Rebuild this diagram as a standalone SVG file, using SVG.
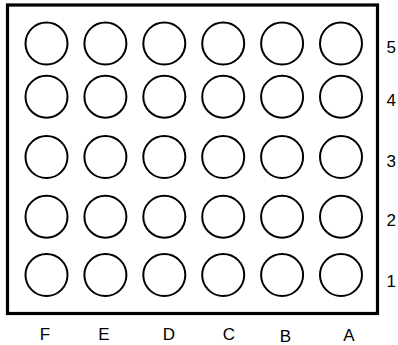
<svg xmlns="http://www.w3.org/2000/svg" width="398" height="345" viewBox="0 0 398 345">
<style>
.ball{fill:#fff;stroke:#000;stroke-width:2}
.lbl{font-family:"Liberation Sans",Arial,sans-serif;font-size:17px;fill:#000}
.col{text-anchor:middle}
</style>
<rect x="0" y="0" width="398" height="345" fill="#fff"/>
<g id="board">
<rect x="7.5" y="5" width="370" height="308.5" fill="none" stroke="#000" stroke-width="3.2"/>
</g>
<g id="balls">
<g id="row5">
<circle class="ball" cx="46.5" cy="43.5" r="21"/><circle class="ball" cx="105.4" cy="43.5" r="21"/><circle class="ball" cx="164.3" cy="43.5" r="21"/><circle class="ball" cx="223.2" cy="43.5" r="21"/><circle class="ball" cx="282.1" cy="43.5" r="21"/><circle class="ball" cx="341" cy="43.5" r="21"/>
</g>
<g id="row4">
<circle class="ball" cx="46.5" cy="96.7" r="21"/><circle class="ball" cx="105.4" cy="96.7" r="21"/><circle class="ball" cx="164.3" cy="96.7" r="21"/><circle class="ball" cx="223.2" cy="96.7" r="21"/><circle class="ball" cx="282.1" cy="96.7" r="21"/><circle class="ball" cx="341" cy="96.7" r="21"/>
</g>
<g id="row3">
<circle class="ball" cx="46.5" cy="157" r="21"/><circle class="ball" cx="105.4" cy="157" r="21"/><circle class="ball" cx="164.3" cy="157" r="21"/><circle class="ball" cx="223.2" cy="157" r="21"/><circle class="ball" cx="282.1" cy="157" r="21"/><circle class="ball" cx="341" cy="157" r="21"/>
</g>
<g id="row2">
<circle class="ball" cx="46.5" cy="216.7" r="21"/><circle class="ball" cx="105.4" cy="216.7" r="21"/><circle class="ball" cx="164.3" cy="216.7" r="21"/><circle class="ball" cx="223.2" cy="216.7" r="21"/><circle class="ball" cx="282.1" cy="216.7" r="21"/><circle class="ball" cx="341" cy="216.7" r="21"/>
</g>
<g id="row1">
<circle class="ball" cx="46.5" cy="275" r="21"/><circle class="ball" cx="105.4" cy="275" r="21"/><circle class="ball" cx="164.3" cy="275" r="21"/><circle class="ball" cx="223.2" cy="275" r="21"/><circle class="ball" cx="282.1" cy="275" r="21"/><circle class="ball" cx="341" cy="275" r="21"/>
</g>
</g>
<g id="row-labels" class="lbl">
<text x="386.5" y="52.7">5</text>
<text x="386.5" y="106">4</text>
<text x="386.5" y="166.5">3</text>
<text x="386.5" y="225.5">2</text>
<text x="386.5" y="286.7">1</text>
</g>
<g id="col-labels" class="lbl col">
<text x="45" y="340">F</text>
<text x="104" y="340">E</text>
<text x="169" y="340">D</text>
<text x="229" y="340">C</text>
<text x="285.5" y="342">B</text>
<text x="349" y="341">A</text>
</g>
</svg>
